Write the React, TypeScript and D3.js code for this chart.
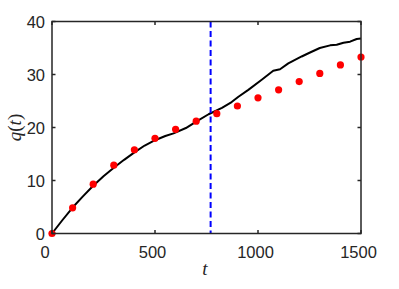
import React from "react";
import * as d3 from "d3";

const dotT = [0, 100, 200, 300, 400, 500, 600, 700, 800, 900, 1000, 1100, 1200, 1300, 1400, 1500];
const dotQ = [0, 4.85, 9.3, 12.9, 15.8, 17.95, 19.65, 21.2, 22.6, 24.06, 25.6, 27.1, 28.66, 30.2, 31.8, 33.3];

const lineT = [0, 50, 100, 150, 200, 250, 300, 350, 400, 450, 500, 550, 590, 650, 700, 760, 825, 872, 905, 953, 1018, 1074, 1107, 1147, 1212, 1250, 1300, 1350, 1382, 1415, 1447, 1479, 1500];
const lineQ = [0, 2.5, 4.9, 7.0, 9.0, 10.8, 12.4, 13.9, 15.3, 16.6, 17.6, 18.4, 18.9, 19.9, 21.1, 22.5, 23.7, 24.8, 25.8, 27.1, 29.0, 30.7, 31.0, 32.1, 33.4, 34.1, 35.0, 35.5, 35.6, 36.0, 36.2, 36.7, 36.8];

const splitT = 770;
const xTicks = [0, 500, 1000, 1500];
const yTicks = [0, 10, 20, 30, 40];

export default function App() {
  const x = d3.scaleLinear().domain([0, 1500]).range([52, 361]);
  const y = d3.scaleLinear().domain([0, 40]).range([233.5, 21.5]);
  const line = d3.line<number>().x((_, i) => x(lineT[i])).y((d) => y(d));
  const axisColor = "#262626";
  const tickLen = 3.5;
  const font = "'Liberation Sans', Arial, sans-serif";
  const serif = "'Liberation Serif', 'Times New Roman', serif";
  return (
    <svg width={399} height={289} style={{ position: "absolute", left: 0, top: 0, background: "#fff" }}>
      <rect x={0} y={0} width={399} height={289} fill="#fff" />
      <path d={line(lineQ) || ""} fill="none" stroke="#000" strokeWidth={2} strokeLinejoin="round" />
      <line x1={x(splitT)} x2={x(splitT)} y1={y(40)} y2={y(0)} stroke="#0000ff" strokeWidth={2} strokeDasharray="6,3.5" />
      {dotT.map((t, i) => (
        <circle key={i} cx={x(t)} cy={y(dotQ[i])} r={3.6} fill="#ff0000" />
      ))}
      <rect x={x(0)} y={y(40)} width={x(1500) - x(0)} height={y(0) - y(40)} fill="none" stroke={axisColor} strokeWidth={1.5} />
      {xTicks.map((t) => (
        <g key={"xt" + t}>
          <line x1={x(t)} x2={x(t)} y1={y(0)} y2={y(0) - tickLen} stroke={axisColor} strokeWidth={1.5} />
          <line x1={x(t)} x2={x(t)} y1={y(40)} y2={y(40) + tickLen} stroke={axisColor} strokeWidth={1.5} />
          <text x={x(t) - (t === 0 ? 7 : 2.5)} y={258} textAnchor="middle" fontFamily={font} fontSize={16.5} fill={axisColor}>
            {t}
          </text>
        </g>
      ))}
      {yTicks.map((v) => (
        <g key={"yt" + v}>
          <line x1={x(0)} x2={x(0) + tickLen} y1={y(v)} y2={y(v)} stroke={axisColor} strokeWidth={1.5} />
          <line x1={x(1500)} x2={x(1500) - tickLen} y1={y(v)} y2={y(v)} stroke={axisColor} strokeWidth={1.5} />
          <text x={45} y={y(v) + 6} textAnchor="end" fontFamily={font} fontSize={16.5} fill={axisColor}>
            {v}
          </text>
        </g>
      ))}
      <text x={205} y={275} textAnchor="middle" fontFamily={serif} fontSize={19} fontStyle="italic" fill={axisColor}>
        t
      </text>
      <text transform={`translate(21, ${(y(0) + y(40)) / 2}) rotate(-90)`} textAnchor="middle" fontFamily={serif} fontSize={19} fill={axisColor}>
        <tspan fontStyle="italic">q</tspan>
        <tspan>(</tspan>
        <tspan fontStyle="italic">t</tspan>
        <tspan>)</tspan>
      </text>
    </svg>
  );
}
